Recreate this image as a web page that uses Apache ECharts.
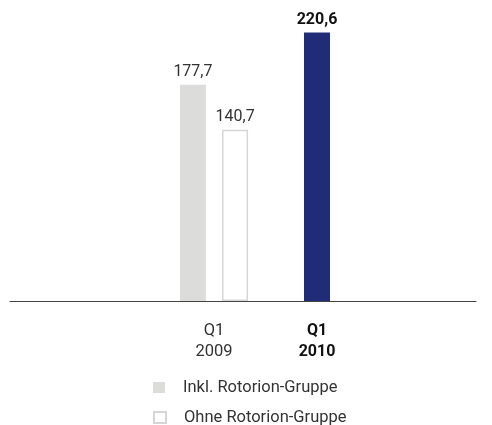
<!DOCTYPE html>
<html>
<head>
<meta charset="utf-8">
<script src="https://cdn.jsdelivr.net/npm/echarts@6/dist/echarts.min.js"></script>
<style>
  html, body { margin: 0; padding: 0; background: #fff; }
  #chart { width: 492px; height: 425px; }
</style>
</head>
<body>
<div id="chart"></div>
<script>
// Umsatz Q1 (Mio. EUR)
const categories = ['Q1\n2009', 'Q1\n2010'];
const inklRotorion = [177.7, '-'];
const ohneRotorion = [140.7, '-'];
const q1Current = ['-', 220.6];
const seriesNames = ['Inkl. Rotorion-Gruppe', 'Ohne Rotorion-Gruppe'];

const fontFamily = 'Roboto, sans-serif';
const fmt = function (p) {
    return String(p.value.toFixed(1)).replace('.', ',');
};
const legendBase = {
    left: 153,
    padding: 0,
    itemWidth: 12,
    itemHeight: 11,
    icon: 'rect',
    textStyle: { fontSize: 16.5, color: '#333', padding: [0, 0, 0, 13] }
};

const chart = echarts.init(document.getElementById('chart'));
chart.setOption({
    animation: false,
    backgroundColor: '#fff',
    textStyle: { fontFamily: fontFamily },
    legend: [
        Object.assign({ top: 379, data: [seriesNames[0]] }, legendBase),
        Object.assign({ top: 409, data: [seriesNames[1]] }, legendBase)
    ],
    grid: [
        // bars
        { left: 162.5, right: 123.5, top: 9, bottom: 124 },
        // full-width base line
        { left: 10, right: 16, top: 9, bottom: 124 }
    ],
    xAxis: [
        {
            type: 'category',
            gridIndex: 0,
            data: categories,
            axisLine: { show: false },
            axisTick: { show: false },
            axisLabel: {
                margin: 19,
                formatter: function (v, i) {
                    const parts = v.split('\n');
                    const key = i === 1 ? 'b' : 'n';
                    return '{' + key + '|' + parts[0] + '}\n{' + key + '|' + parts[1] + '}';
                },
                rich: {
                    n: { fontSize: 16.5, color: '#333', lineHeight: 21, fontFamily: fontFamily },
                    b: { fontSize: 16, color: '#111', fontWeight: 'bold', lineHeight: 21, fontFamily: fontFamily }
                }
            }
        },
        {
            type: 'category',
            gridIndex: 0,
            data: categories,
            show: false
        },
        {
            type: 'category',
            gridIndex: 1,
            data: [''],
            axisLine: { lineStyle: { color: '#444', width: 1.2 } },
            axisTick: { show: false },
            axisLabel: { show: false }
        }
    ],
    yAxis: [
        { type: 'value', gridIndex: 0, min: 0, max: 240, show: false },
        { type: 'value', gridIndex: 1, min: 0, max: 240, show: false }
    ],
    series: [
        {
            name: seriesNames[0],
            type: 'bar',
            xAxisIndex: 0,
            yAxisIndex: 0,
            barWidth: 26,
            barGap: '62%',
            itemStyle: { color: '#dcdcdb' },
            label: {
                show: true,
                position: 'top',
                distance: 5,
                fontSize: 16,
                color: '#333',
                formatter: fmt
            },
            data: inklRotorion
        },
        {
            name: seriesNames[1],
            type: 'bar',
            xAxisIndex: 0,
            yAxisIndex: 0,
            barWidth: 26,
            itemStyle: { color: '#fff', borderColor: '#d6d6d6', borderWidth: 1.5 },
            label: {
                show: true,
                position: 'top',
                distance: 5,
                fontSize: 16,
                color: '#333',
                formatter: fmt
            },
            data: ohneRotorion
        },
        {
            name: 'Q1 2010',
            type: 'bar',
            xAxisIndex: 1,
            yAxisIndex: 0,
            barWidth: 26,
            itemStyle: { color: '#212c78' },
            label: {
                show: true,
                position: 'top',
                distance: 5,
                fontSize: 16,
                fontWeight: 'bold',
                color: '#111',
                formatter: fmt
            },
            data: q1Current
        }
    ]
});
</script>
</body>
</html>
